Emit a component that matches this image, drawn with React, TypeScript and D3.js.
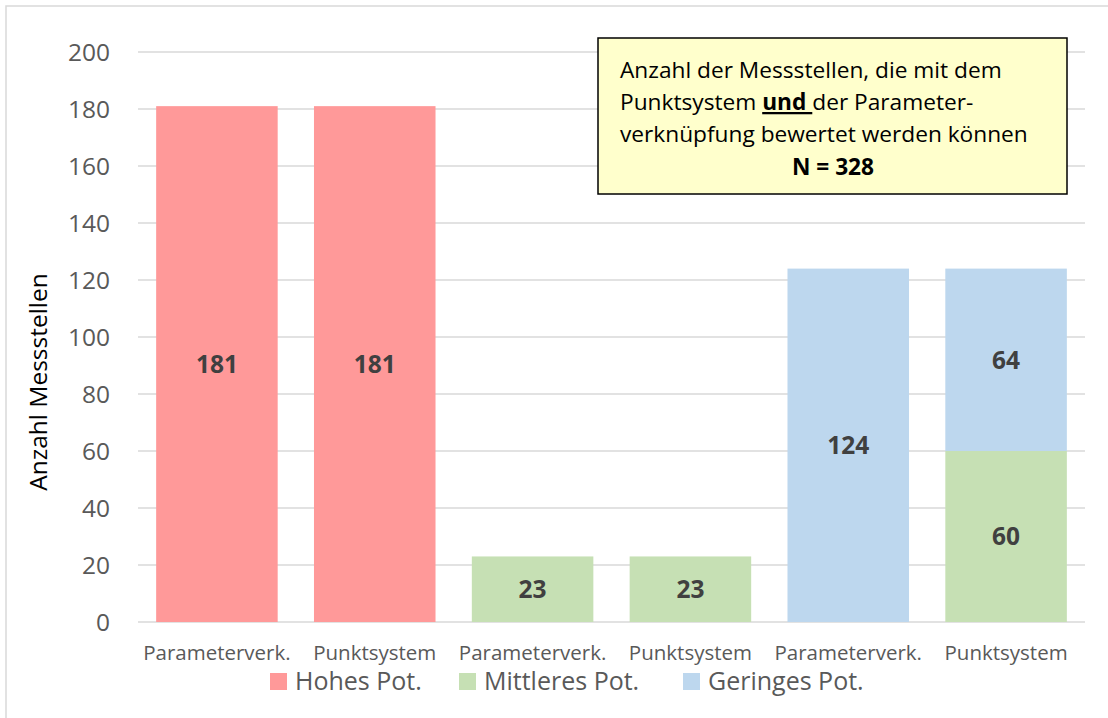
import React from 'react';
import * as d3 from 'd3';

// categories (x axis) – two methods per potential class
const categories = ['Parameterverk.', 'Punktsystem', 'Parameterverk.', 'Punktsystem', 'Parameterverk.', 'Punktsystem'];

// stacked series values
const seriesNames = ['Hohes Pot.', 'Mittleres Pot.', 'Geringes Pot.'];
const hohesPot = [181, 181, 0, 0, 0, 0];
const mittleresPot = [0, 0, 23, 23, 0, 60];
const geringesPot = [0, 0, 0, 0, 124, 64];

const yTicks = [0, 20, 40, 60, 80, 100, 120, 140, 160, 180, 200];

const colors = ['#FF9999', '#C6E0B4', '#BDD7EE'];
const FONT = '"Open Sans", "Noto Sans", sans-serif';

export default function App() {
  const width = 1108;
  const height = 718;
  const margin = { top: 52, right: 23, bottom: 96, left: 138 };

  const x = d3.scaleBand<number>()
    .domain(categories.map((_, i) => i))
    .range([margin.left, width - margin.right])
    .paddingInner(0.23)
    .paddingOuter(0.115);

  const y = d3.scaleLinear()
    .domain([0, 200])
    .range([height - margin.bottom, margin.top]);

  // build rows for d3.stack
  const rows = categories.map((c, i) => ({
    idx: i,
    'Hohes Pot.': hohesPot[i],
    'Mittleres Pot.': mittleresPot[i],
    'Geringes Pot.': geringesPot[i],
  }));
  const stacked = d3.stack<any>().keys(seriesNames)(rows);

  // legend positions
  const legendX = [270, 459, 683];

  return (
    <div style={{ position: 'absolute', left: 0, top: 0 }}>
      <svg width={width} height={height} style={{ display: 'block', fontFamily: FONT }}>
        <rect x={0} y={0} width={width} height={height} fill="#fff" />
        {/* chart border */}
        <rect x={6} y={6} width={width + 10} height={height + 10} fill="none" stroke="#D9D9D9" strokeWidth={1.5} />

        {/* gridlines */}
        {yTicks.map((t) => (
          <line
            key={t}
            x1={margin.left}
            x2={width - margin.right}
            y1={y(t)}
            y2={y(t)}
            stroke="#D9D9D9"
            strokeWidth={1.4}
          />
        ))}

        {/* y tick labels */}
        {yTicks.map((t) => (
          <text key={`l${t}`} x={110} y={y(t)} dy="0.36em" textAnchor="end" fontSize={24.5} fill="#595959">
            {t}
          </text>
        ))}

        {/* y axis title */}
        <text
          transform="translate(47,382) rotate(-90)"
          textAnchor="middle"
          fontSize={24.5}
          fill="#000"
        >
          Anzahl Messstellen
        </text>

        {/* bars */}
        {stacked.map((s, si) => (
          <g key={s.key} fill={colors[si]}>
            {s.map((d, i) => (d[1] - d[0] > 0 ? (
              <rect
                key={i}
                x={x(i)}
                width={x.bandwidth()}
                y={y(d[1])}
                height={y(d[0]) - y(d[1])}
              />
            ) : null))}
          </g>
        ))}

        {/* data labels */}
        {stacked.map((s) => s.map((d, i) => (d[1] - d[0] > 0 ? (
          <text
            key={`${s.key}${i}`}
            x={(x(i) as number) + x.bandwidth() / 2}
            y={y((d[0] + d[1]) / 2)}
            dy="0.36em"
            textAnchor="middle"
            fontSize={24.5}
            fontWeight="bold"
            fill="#404040"
          >
            {d[1] - d[0]}
          </text>
        ) : null)))}

        {/* x labels */}
        {categories.map((c, i) => (
          <text
            key={`x${i}`}
            x={(x(i) as number) + x.bandwidth() / 2}
            y={660}
            textAnchor="middle"
            fontSize={20.5}
            fill="#595959"
          >
            {c}
          </text>
        ))}

        {/* legend */}
        {seriesNames.map((n, i) => (
          <g key={n}>
            <rect x={legendX[i]} y={673} width={17} height={17} fill={colors[i]} />
            <text x={legendX[i] + 25} y={690} fontSize={25} fill="#595959">{n}</text>
          </g>
        ))}

        {/* annotation box */}
        <rect x={598} y={38} width={469} height={156} fill="#FFFFCC" stroke="#000" strokeWidth={1.5} />
        <g fontSize={22.7} fill="#000">
          <text x={620} y={78}>Anzahl der Messstellen, die mit dem</text>
          <text x={620} y={110} style={{ whiteSpace: 'pre' }}>
            Punktsystem <tspan fontWeight="bold" textDecoration="underline">und </tspan>der Parameter-
          </text>
          <text x={620} y={142}>verknüpfung bewertet werden können</text>
          <text x={833} y={175} textAnchor="middle" fontWeight="bold">N = 328</text>
        </g>
      </svg>
    </div>
  );
}
